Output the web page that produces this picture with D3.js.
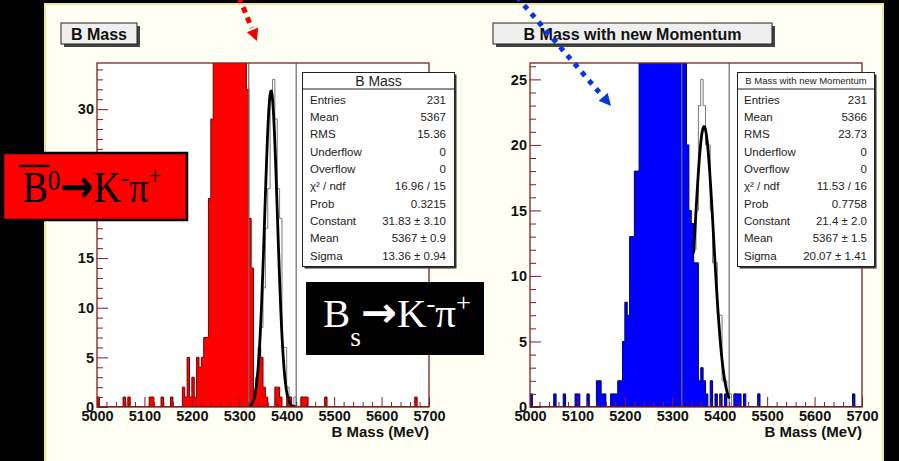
<!DOCTYPE html>
<html>
<head>
<meta charset="utf-8">
<script src="https://cdn.jsdelivr.net/npm/d3@7"></script>
<style>
  html, body { margin: 0; padding: 0; background: #000; }
  svg { display: block; }
</style>
</head>
<body>
<svg id="chart" width="899" height="461"></svg>
<script>
// ---------------- data ----------------
// Invariant-mass histograms, 5 MeV bins from 5000 to 5700 MeV (140 bins)
const massMin = 5000, massMax = 5700, binWidth = 5;
const massTicks = [5000, 5100, 5200, 5300, 5400, 5500, 5600, 5700];
const countTicksOld = [0, 5, 10, 15, 20, 25, 30];
const countTicksNew = [0, 5, 10, 15, 20, 25];

// B0 -> K- pi+ candidates, original momentum (filled red)
const bdCountsOld = [
  1,0,0,0,0,0,0,0,0,0,   0,1,0,1,0,0,0,0,0,0,
  0,0,1,1,0,0,0,1,0,0,   0,1,0,0,0,0,2,1,5,1,
  3,1,5,4,5,7,7,21,29,38, 45,52,57,61,63,62,59,55,50,46,
  42,39,36,32,19,14,1,3,6,5, 2,1,0,0,0,2,2,1,0,0,
  1,1,0,0,0,0,1,1,1,0,   0,0,0,0,0,0,1,0,0,0,
  0,0,0,0,0,0,0,0,0,0,   0,0,0,0,0,0,0,0,0,0,
  0,0,0,0,0,0,0,0,0,0,   0,0,0,0,1,0,0,0,0,0
];
// Bs -> K- pi+ candidates, original momentum (open histogram)
const bsCountsOld = [
  0,0,0,0,0,0,0,0,0,0,   0,0,0,0,0,0,0,0,0,0,
  0,0,0,0,0,0,0,0,0,0,   0,0,0,0,0,0,0,0,0,0,
  0,0,0,0,0,0,0,0,0,0,   0,0,0,0,0,1,0,0,1,0,
  1,0,2,2,3,3,1,2,4,8,   12,18,22,31,33,29,22,19,6,6,
  2,1,0,1,0,0,1,0,0,0,   0,0,0,0,0,0,0,0,0,0,
  0,0,0,0,0,0,0,0,0,0,   0,0,0,0,0,0,0,0,0,0,
  0,0,0,0,0,0,0,0,0,0,   0,0,0,0,0,0,0,0,0,0
];
// B0 -> K- pi+ candidates, new momentum (filled blue)
const bdCountsNew = [
  1,0,0,0,0,0,0,0,0,0,   1,0,0,0,1,0,0,0,0,1,
  1,0,0,0,1,0,0,0,2,2,   1,1,0,0,1,1,1,2,2,5,
  8,7,13,13,18,18,30,34,38,42, 45,47,48,48,47,45,43,40,38,36,
  34,32,30,29,28,27,20,15,14,11, 11,2,3,2,1,0,2,0,1,0,
  1,0,1,0,0,0,1,1,1,0,   1,0,0,0,0,0,1,0,0,0,
  0,0,0,0,0,0,0,0,0,0,   0,0,0,0,0,0,0,0,0,0,
  0,0,0,0,0,0,0,0,0,0,   0,0,0,0,0,0,1,0,0,0
];
// Bs -> K- pi+ candidates, new momentum (open histogram)
const bsCountsNew = [
  0,0,0,0,0,0,0,0,0,0,   0,0,0,0,0,0,0,0,0,0,
  0,0,0,0,0,0,0,0,0,0,   0,0,0,0,0,0,0,0,0,0,
  0,0,0,0,0,0,0,0,0,0,   1,0,1,0,1,1,1,1,1,2,
  2,1,2,2,1,2,3,5,8,12,  15,23,25,23,20,20,15,11,11,7,
  7,2,2,1,1,0,1,0,0,0,   0,0,0,0,0,0,0,0,0,0,
  0,0,0,0,0,0,0,0,0,0,   0,0,0,0,0,0,0,0,0,0,
  0,0,0,0,0,0,0,0,0,0,   0,0,0,0,0,0,0,0,0,0
];

// Gaussian fits to the Bs peak (parameters as printed in the stat boxes)
const fitOld = { constant: 31.83, mean: 5367, sigma: 13.36, from: 5320, to: 5420 };
const fitNew = { constant: 21.4,  mean: 5367, sigma: 20.07, from: 5345, to: 5420 };
// Mass window edges
const windowEdges = [5320, 5420];

const statsOld = [
  ["Entries", "231"], ["Mean", "5367"], ["RMS", "15.36"], ["Underflow", "0"],
  ["Overflow", "0"], ["\u03c7\u00b2 / ndf", "16.96 / 15"], ["Prob", "0.3215"],
  ["Constant", "31.83 \u00b1 3.10"], ["Mean", "5367 \u00b1 0.9"], ["Sigma", "13.36 \u00b1 0.94"]
];
const statsNew = [
  ["Entries", "231"], ["Mean", "5366"], ["RMS", "23.73"], ["Underflow", "0"],
  ["Overflow", "0"], ["\u03c7\u00b2 / ndf", "11.53 / 16"], ["Prob", "0.7758"],
  ["Constant", "21.4 \u00b1 2.0"], ["Mean", "5367 \u00b1 1.5"], ["Sigma", "20.07 \u00b1 1.41"]
];

// ---------------- layout ----------------
const SANS = "'Liberation Sans', Arial, Helvetica, sans-serif";
const SERIF = "'Liberation Serif', 'Times New Roman', serif";
const frameColor = "#7d2020";

const panels = [
  {
    key: "old", title: "B Mass", statTitle: "B Mass", statTitleSize: 14,
    frame: { x0: 97, x1: 429, y0: 63, y1: 407 },
    titleBox: { x: 61, y: 23, w: 76, h: 21 },
    statBox: { x: 302.5, y: 72.5, w: 152, h: 194, labelX: 310, valueX: 446 },
    yTicks: countTicksOld, bd: bdCountsOld, bs: bsCountsOld,
    fill: "#ff0000", edge: "#6e0000", fit: fitOld, stats: statsOld
  },
  {
    key: "new", title: "B Mass with new Momentum", statTitle: "B Mass with new Momentum", statTitleSize: 9.5,
    frame: { x0: 530, x1: 862, y0: 63, y1: 407 },
    titleBox: { x: 493, y: 23, w: 279, h: 21 },
    statBox: { x: 737.5, y: 72.5, w: 137, h: 194, labelX: 744, valueX: 867 },
    yTicks: countTicksNew, bd: bdCountsNew, bs: bsCountsNew,
    fill: "#0000ff", edge: "#00005a", fit: fitNew, stats: statsNew
  }
];

const svg = d3.select("#chart");
svg.append("rect").attr("width", 899).attr("height", 461).attr("fill", "#000");
svg.append("rect").attr("x", 45).attr("y", 4).attr("width", 838).attr("height", 460)
  .attr("fill", "#fffff3").attr("stroke", "#e9e49a").attr("stroke-width", 2);

function stepPoints(counts, x, y) {
  const pts = [[x(massMin), y(0)]];
  counts.forEach((c, i) => {
    const a = x(massMin + i * binWidth), b = x(massMin + (i + 1) * binWidth);
    pts.push([a, y(c)], [b, y(c)]);
  });
  pts.push([x(massMax), y(0)]);
  return pts;
}

panels.forEach(p => {
  const f = p.frame;
  const yMax = d3.max(p.bs) * 1.05;
  const x = d3.scaleLinear().domain([massMin, massMax]).range([f.x0, f.x1]);
  const y = d3.scaleLinear().domain([0, yMax]).range([f.y1, f.y0]);
  const g = svg.append("g");

  // title box with shadow
  const tb = p.titleBox;
  g.append("rect").attr("x", tb.x + 3).attr("y", tb.y + 3).attr("width", tb.w).attr("height", tb.h).attr("fill", "#444");
  g.append("rect").attr("x", tb.x).attr("y", tb.y).attr("width", tb.w).attr("height", tb.h)
    .attr("fill", "#efefef").attr("stroke", "#222").attr("stroke-width", 1);
  g.append("text").attr("x", tb.x + tb.w / 2).attr("y", tb.y + 17).attr("text-anchor", "middle")
    .attr("font-family", SANS).attr("font-weight", "bold").attr("font-size", 16).attr("fill", "#111")
    .text(p.title);

  // plot area
  g.append("rect").attr("x", f.x0).attr("y", f.y0).attr("width", f.x1 - f.x0).attr("height", f.y1 - f.y0).attr("fill", "#fff");
  const clipId = "clip-" + p.key;
  svg.append("clipPath").attr("id", clipId).append("rect")
    .attr("x", f.x0).attr("y", f.y0).attr("width", f.x1 - f.x0).attr("height", f.y1 - f.y0);
  const plot = g.append("g").attr("clip-path", `url(#${clipId})`);

  const line = d3.line();
  // open Bs histogram
  plot.append("path").attr("d", line(stepPoints(p.bs, x, y))).attr("fill", "none")
    .attr("stroke", "#7a7a7a").attr("stroke-width", 1);
  // filled B0 histogram
  plot.append("path").attr("d", line(stepPoints(p.bd, x, y)) + "Z").attr("fill", p.fill)
    .attr("stroke", p.edge).attr("stroke-width", 1);
  // mass window lines
  plot.selectAll(".win").data(windowEdges).join("line")
    .attr("x1", d => x(d)).attr("x2", d => x(d)).attr("y1", f.y0).attr("y2", f.y1)
    .attr("stroke", "#6d6d6d").attr("stroke-width", 1.2);
  // Gaussian fit
  const fit = p.fit;
  const ms = d3.range(fit.from, fit.to + 0.001, 0.5);
  const gauss = m => fit.constant * Math.exp(-0.5 * Math.pow((m - fit.mean) / fit.sigma, 2));
  plot.append("path").attr("d", d3.line().x(m => x(m)).y(m => y(gauss(m)))(ms))
    .attr("fill", "none").attr("stroke", "#000").attr("stroke-width", 2.8).attr("stroke-linejoin", "round");

  // frame
  g.append("rect").attr("x", f.x0).attr("y", f.y0).attr("width", f.x1 - f.x0).attr("height", f.y1 - f.y0)
    .attr("fill", "none").attr("stroke", frameColor).attr("stroke-width", 1.3);

  // axes (ticks drawn inward)
  const yMajor = d3.axisLeft(y).tickValues(p.yTicks).tickSize(-11).tickPadding(3).tickFormat(d3.format("d"));
  const yMinor = d3.axisLeft(y).tickValues(d3.range(0, Math.floor(yMax) + 1).filter(v => v % 5)).tickSize(-6).tickFormat("");
  const xMajor = d3.axisBottom(x).tickValues(massTicks).tickSize(-10).tickPadding(4).tickFormat(d3.format("d"));
  const xMinor = d3.axisBottom(x).tickValues(d3.range(massMin, massMax + 1, 20).filter(v => v % 100)).tickSize(-5).tickFormat("");
  const styleAxis = sel => {
    sel.select(".domain").remove();
    sel.selectAll(".tick line").attr("stroke", frameColor).attr("stroke-width", 1);
    sel.selectAll(".tick text").attr("font-family", SANS).attr("font-weight", "bold")
      .attr("font-size", 14.5).attr("fill", "#111");
  };
  g.append("g").attr("transform", `translate(${f.x0},0)`).call(yMinor).call(styleAxis);
  g.append("g").attr("transform", `translate(${f.x0},0)`).call(yMajor).call(styleAxis);
  g.append("g").attr("transform", `translate(0,${f.y1})`).call(xMinor).call(styleAxis);
  g.append("g").attr("transform", `translate(0,${f.y1})`).call(xMajor).call(styleAxis);

  g.append("text").attr("x", f.x1).attr("y", 437).attr("text-anchor", "end")
    .attr("font-family", SANS).attr("font-weight", "bold").attr("font-size", 15).attr("fill", "#111")
    .text("B Mass (MeV)");

  // statistics box
  const sb = p.statBox;
  g.append("rect").attr("x", sb.x + 2).attr("y", sb.y + 2).attr("width", sb.w).attr("height", sb.h).attr("fill", "#333");
  g.append("rect").attr("x", sb.x).attr("y", sb.y).attr("width", sb.w).attr("height", sb.h)
    .attr("fill", "#fff").attr("stroke", "#222").attr("stroke-width", 1);
  g.append("line").attr("x1", sb.x).attr("x2", sb.x + sb.w).attr("y1", sb.y + 16.5).attr("y2", sb.y + 16.5)
    .attr("stroke", "#222").attr("stroke-width", 1);
  g.append("text").attr("x", sb.x + sb.w / 2).attr("y", sb.y + 8.5).attr("dy", "0.36em").attr("text-anchor", "middle")
    .attr("font-family", SANS).attr("font-size", p.statTitleSize).attr("fill", "#222").text(p.statTitle);
  const rowY = i => sb.y + 27 + i * 17.35;
  g.selectAll(".slab").data(p.stats).join("text")
    .attr("x", sb.labelX).attr("y", (d, i) => rowY(i)).attr("dy", "0.36em")
    .attr("font-family", SANS).attr("font-size", 11.5).attr("fill", "#222").text(d => d[0]);
  g.selectAll(".sval").data(p.stats).join("text")
    .attr("x", sb.valueX).attr("y", (d, i) => rowY(i)).attr("dy", "0.36em").attr("text-anchor", "end")
    .attr("font-family", SANS).attr("font-size", 11.5).attr("fill", "#222").text(d => d[1]);
});

// ---------------- decay-channel labels ----------------
function channelLabel(box, parts, color, size, left, width, baseline, overbar) {
  const g = svg.append("g");
  g.append("rect").attr("x", box.x).attr("y", box.y).attr("width", box.w).attr("height", box.h)
    .attr("fill", box.fill).attr("stroke", "#000").attr("stroke-width", box.stroke);
  const tg = g.append("g");
  const t = tg.append("text").attr("x", left).attr("y", baseline)
    .attr("font-family", SERIF).attr("font-size", size).attr("fill", color);
  parts.forEach(pt => {
    const s = t.append("tspan").text(pt.text);
    if (pt.dy) s.attr("dy", pt.dy);
    if (pt.size) s.attr("font-size", pt.size);
    if (pt.family) s.attr("font-family", pt.family);
    if (pt.bold) s.attr("font-weight", "bold");
  });
  if (overbar) {
    const ext = t.node().getExtentOfChar(0);
    tg.append("line").attr("x1", ext.x - 4).attr("x2", ext.x + ext.width + 2)
      .attr("y1", ext.y + 3).attr("y2", ext.y + 3).attr("stroke", color).attr("stroke-width", 2.4);
  }
  const bb = tg.node().getBBox();
  const sx = width / bb.width;
  tg.attr("transform", `translate(${left - bb.x * sx},0) scale(${sx},1)`);
}

const ARROW = "\u2192";
channelLabel({ x: 3, y: 153, w: 184, h: 67, fill: "#ff0000", stroke: 2.5 }, [
  { text: "B" }, { text: "0", dy: -12, size: 29 },
  { text: ARROW, dy: 12, family: "'DejaVu Sans', sans-serif", bold: true, size: 46 },
  { text: "K" }, { text: "-", dy: -16, size: 28 }, { text: "\u03c0", dy: 16 },
  { text: "+", dy: -17, size: 28 }
], "#000", 44, 19, 143, 202, true);

channelLabel({ x: 306, y: 282, w: 178, h: 73, fill: "#000", stroke: 0 }, [
  { text: "B" }, { text: "s", dy: 19, size: 27 },
  { text: ARROW, dy: -19, family: "'DejaVu Sans', sans-serif", bold: true, size: 42 },
  { text: "K" }, { text: "-", dy: -15, size: 26 }, { text: "\u03c0", dy: 15 },
  { text: "+", dy: -16, size: 26 }
], "#fff", 40, 323, 148, 327, false);

// ---------------- dotted pointer arrows ----------------
function dottedArrow(from, tip, color, dash) {
  const dx = tip[0] - from[0], dy = tip[1] - from[1];
  const len = Math.hypot(dx, dy), ux = dx / len, uy = dy / len;
  const headLen = 12, headHalf = 6;
  const bx = tip[0] - ux * headLen, by = tip[1] - uy * headLen;
  svg.append("line").attr("x1", from[0]).attr("y1", from[1]).attr("x2", bx - ux * 2).attr("y2", by - uy * 2)
    .attr("stroke", color).attr("stroke-width", 5).attr("stroke-dasharray", dash);
  svg.append("path")
    .attr("d", `M${tip[0]},${tip[1]}L${bx - uy * headHalf},${by + ux * headHalf}L${bx + uy * headHalf},${by - ux * headHalf}Z`)
    .attr("fill", color);
}
dottedArrow([239, -3], [257, 41], "#ee0000", "6,5");
dottedArrow([517, -3], [611, 106], "#0636e0", "5,6");
</script>
</body>
</html>
